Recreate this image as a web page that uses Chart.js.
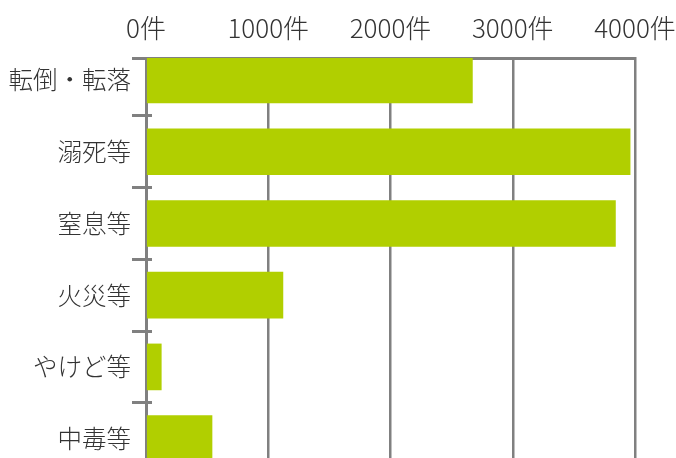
<!DOCTYPE html>
<html>
<head>
<meta charset="utf-8">
<script src="https://cdn.jsdelivr.net/npm/chart.js@4"></script>
<style>
	html, body { margin:0; padding:0; background:#fff; overflow:hidden; }
	#wrap { position:relative; width:676px; height:458px; }
</style>
</head>
<body>
<div id="wrap"><canvas id="c"></canvas></div>
<script>
// data
const kategori = ['転倒・転落', '溺死等', '窒息等', '火災等', 'やけど等', '中毒等'];
const jumlah = [2670, 3960, 3840, 1120, 125, 540];
const tickX = [0, 1000, 2000, 3000, 4000];
const satuan = '件';

const warna = { bar:'#b1cf00', garis:'#808080', teks:'#333333' };
const fam = '"Noto Sans CJK JP", "Noto Sans", sans-serif';

// y range is cut off at top and bottom like the picture
const yMin = -0.307, yMax = 5.27;

// the tick marks between categories cross the axis a little
const tandaDalam = {
	id: 'tandaDalam',
	afterDraw: c => {
		const s = c.scales.y, x0 = c.chartArea.left, ctx = c.ctx;
		ctx.save();
		ctx.strokeStyle = warna.garis;
		ctx.lineWidth = 3;
		kategori.slice(1).forEach((k,i) => {
			// same pixel snapping as the grid ticks
			const y = Math.round(s.getPixelForValue(i + 0.5) - 1.5) + 1.5;
			ctx.beginPath(); ctx.moveTo(x0 - 2, y); ctx.lineTo(x0 + 6, y); ctx.stroke();
		});
		ctx.restore();
	}
};

new Chart(document.getElementById('c'), {
	type: 'bar',
	data: {
		datasets: [{
			data: kategori.map((a,b) => ({ x: jumlah[b], y: b })),
			backgroundColor: warna.bar,
			borderWidth: 0,
			barThickness: 46,
		}]
	},
	plugins: [tandaDalam],
	options: {
		indexAxis: 'y',
		responsive: true,
		maintainAspectRatio: false,
		animation: false,
		layout: { padding: 0 },
		plugins: {
			legend: { display:false },
			tooltip: { enabled:false },
		},
		scales: {
			x: {
				type: 'linear',
				position: 'top',
				min: tickX[0],
				max: tickX[tickX.length-1],
				z: 1,
				afterBuildTicks: a => { a.ticks = tickX.map(v => ({ value:v })) },
				afterFit: a => { a.height = 58; a.paddingLeft = 0; a.paddingRight = 41 },
				ticks: {
					color: warna.teks,
					font: { family:fam, size:26, weight:'300' },
					padding: 14,
					maxRotation: 0,
					callback: v => v + satuan,
				},
				grid: { color: warna.garis, lineWidth: 2.5, drawTicks: false },
				border: { display:true, color: warna.garis, width: 3 },
			},
			y: {
				type: 'linear',
				reverse: true,
				offset: false,
				bounds: 'data',
				min: yMin,
				max: yMax,
				z: 1,
				// labels on whole numbers, tick marks between categories
				afterBuildTicks: a => {
					const t = [{ value:yMin }];
					kategori.forEach((k,i) => {
						t.push({ value:i });
						if (i < kategori.length-1) t.push({ value:i+0.5 });
					});
					a.ticks = t;
				},
				afterFit: a => { a.width = 146; a.paddingTop = 0; a.paddingBottom = 0 },
				ticks: {
					color: warna.teks,
					font: { family:fam, size:24.5, weight:'300' },
					padding: 1,
					autoSkip: false,
					callback: v => Number.isInteger(v) ? kategori[v] : '',
				},
				grid: {
					offset: false,
					drawOnChartArea: false,
					tickLength: 14,
					lineWidth: 3,
					color: c => (c.tick && Number.isInteger(c.tick.value)) ? 'rgba(0,0,0,0)' : warna.garis,
				},
				border: { display:true, color: warna.garis, width: 3 },
			},
		},
	}
});
</script>
</body>
</html>
